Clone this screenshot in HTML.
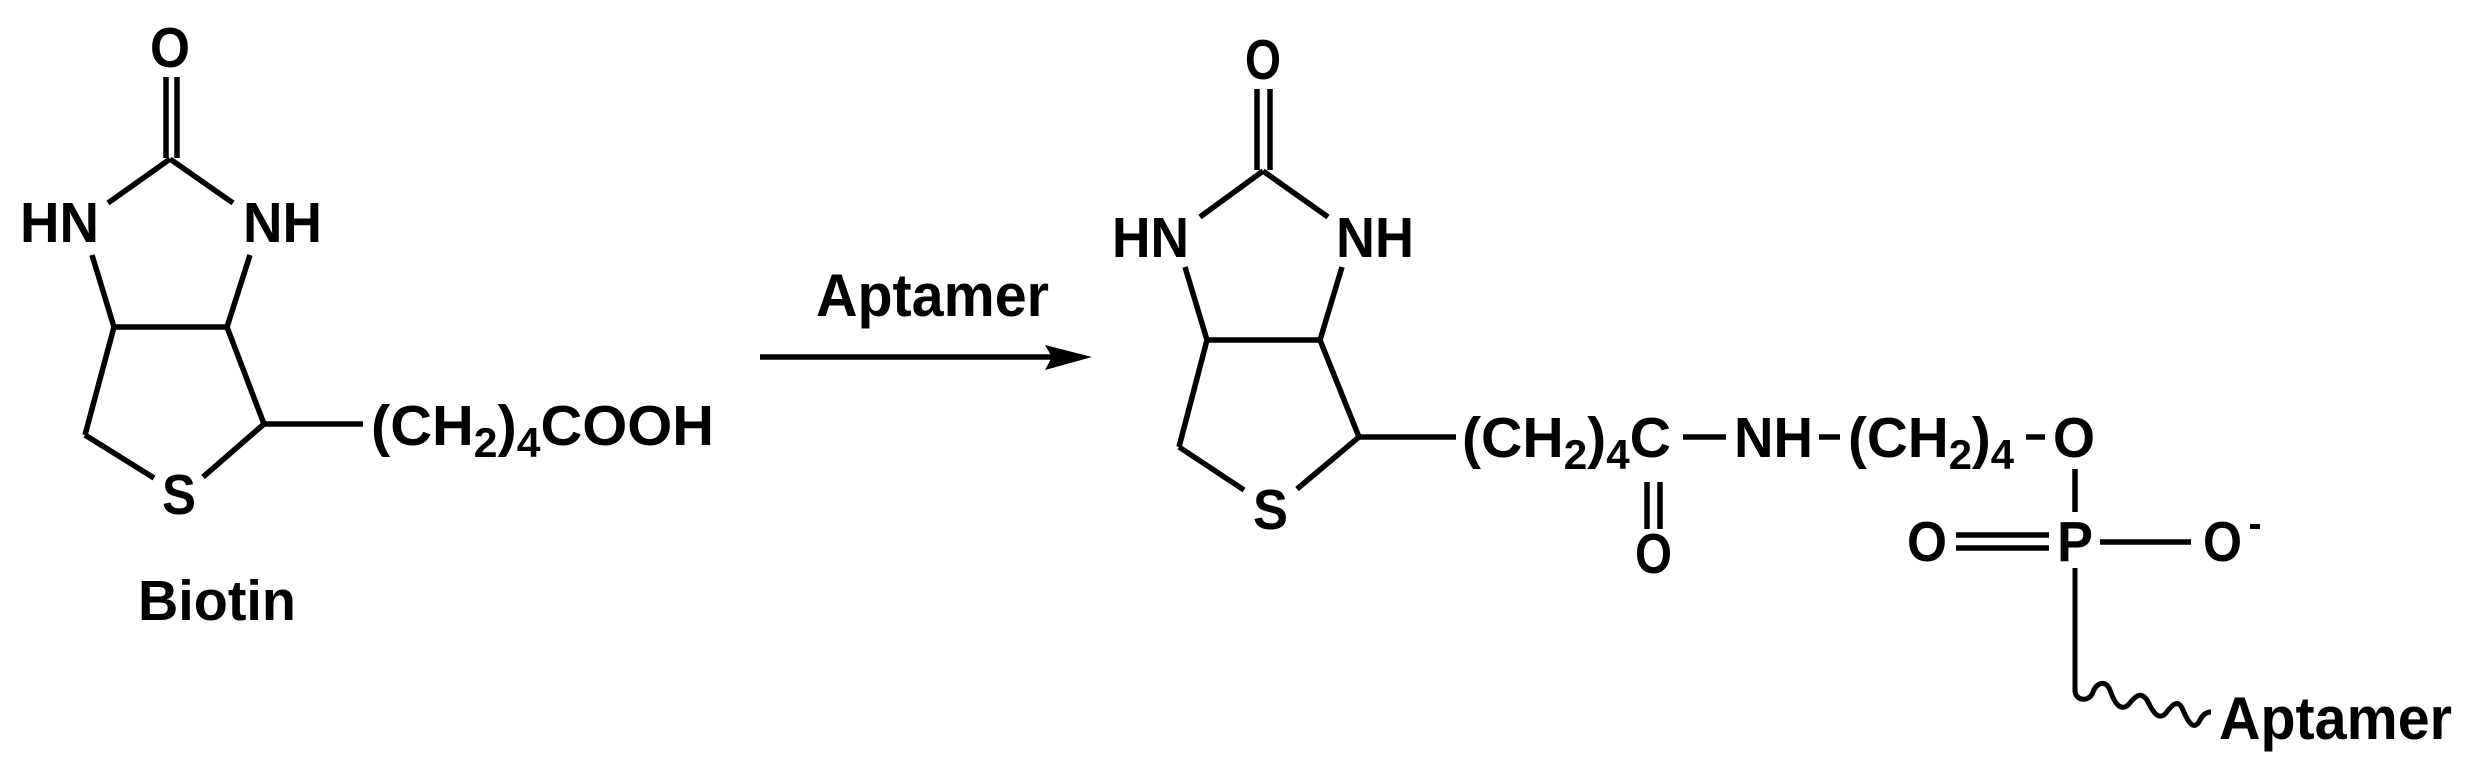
<!DOCTYPE html>
<html><head><meta charset="utf-8"><style>
html,body{margin:0;padding:0;background:#fff;}
svg{display:block}
text{font-family:"Liberation Sans",Arial,sans-serif;font-weight:bold;fill:#000;}
</style></head><body>
<svg width="2474" height="775" viewBox="0 0 2474 775" xmlns="http://www.w3.org/2000/svg">
<g stroke="#000" stroke-width="5.5" fill="none" stroke-linecap="butt">
<line x1="166" y1="77" x2="166" y2="158"/><line x1="177" y1="77" x2="177" y2="158"/>
<line x1="170" y1="159" x2="108" y2="203"/><line x1="170" y1="159" x2="233" y2="203"/>
<line x1="92" y1="255" x2="114" y2="327"/><line x1="250" y1="255" x2="227" y2="327"/>
<line x1="114" y1="327" x2="227" y2="327"/>
<line x1="114" y1="327" x2="85" y2="435"/><line x1="85" y1="435" x2="154" y2="478"/>
<line x1="227" y1="327" x2="264" y2="424"/><line x1="264" y1="424" x2="203" y2="477"/>
<line x1="264" y1="424" x2="363" y2="424"/>
<line x1="760" y1="357" x2="1060" y2="357"/>
<polygon points="1092,357 1045,345 1052,357 1045,370" fill="#000" stroke="none"/>
<line x1="1257" y1="89" x2="1257" y2="170"/><line x1="1270" y1="89" x2="1270" y2="170"/>
<line x1="1263" y1="171" x2="1200" y2="217"/><line x1="1263" y1="171" x2="1328" y2="217"/>
<line x1="1185" y1="267" x2="1207" y2="340"/><line x1="1342" y1="267" x2="1320" y2="340"/>
<line x1="1207" y1="340" x2="1320" y2="340"/>
<line x1="1207" y1="340" x2="1179" y2="447"/><line x1="1179" y1="447" x2="1244" y2="490"/>
<line x1="1320" y1="340" x2="1359" y2="437"/><line x1="1359" y1="437" x2="1297" y2="489"/>
<line x1="1359" y1="437" x2="1456" y2="437"/>
<line x1="1683" y1="437" x2="1726" y2="437"/>
<line x1="1819" y1="437" x2="1840" y2="437"/>
<line x1="2026" y1="437" x2="2045" y2="437"/>
<line x1="1647" y1="482" x2="1647" y2="529"/><line x1="1660" y1="482" x2="1660" y2="529"/>
<line x1="2075" y1="469" x2="2075" y2="512"/>
<line x1="1956" y1="535" x2="2049" y2="535"/><line x1="1956" y1="548" x2="2049" y2="548"/>
<line x1="2100" y1="542" x2="2191" y2="542"/>
<path d="M2075 568 L2075 690 C2075 702 2090 702 2093 692 C2097 682 2106 680 2110 690 C2114 702 2120 712 2128 705 C2134 698 2140 690 2147 700 C2152 710 2158 722 2166 713 C2172 705 2178 698 2183 710 C2188 722 2194 732 2200 720 C2203 714 2207 712 2211 712" stroke-width="5"/>
</g>
<g font-size="57">
<text x="150" y="67" textLength="40" lengthAdjust="spacingAndGlyphs">O</text>
<text x="20" y="242" textLength="79" lengthAdjust="spacingAndGlyphs">HN</text>
<text x="243" y="242" textLength="79" lengthAdjust="spacingAndGlyphs">NH</text>
<text x="162" y="514" textLength="34" lengthAdjust="spacingAndGlyphs">S</text>
<text x="371" y="445" textLength="343" lengthAdjust="spacingAndGlyphs">(CH<tspan font-size="42" dy="12">2</tspan><tspan dy="-12">)</tspan><tspan font-size="42" dy="12">4</tspan><tspan dy="-12">COOH</tspan></text>
<text x="138" y="620" textLength="158" lengthAdjust="spacingAndGlyphs">Biotin</text>
<text x="816" y="316" font-size="60" textLength="233" lengthAdjust="spacingAndGlyphs">Aptamer</text>

<text x="1245" y="79" textLength="36" lengthAdjust="spacingAndGlyphs">O</text>
<text x="1112" y="257" textLength="77" lengthAdjust="spacingAndGlyphs">HN</text>
<text x="1336" y="257" textLength="78" lengthAdjust="spacingAndGlyphs">NH</text>
<text x="1253" y="529" textLength="35" lengthAdjust="spacingAndGlyphs">S</text>
<text x="1462" y="457" textLength="209" lengthAdjust="spacingAndGlyphs">(CH<tspan font-size="42" dy="12">2</tspan><tspan dy="-12">)</tspan><tspan font-size="42" dy="12">4</tspan><tspan dy="-12">C</tspan></text>
<text x="1734" y="457" textLength="79" lengthAdjust="spacingAndGlyphs">NH</text>
<text x="1848" y="457" textLength="166" lengthAdjust="spacingAndGlyphs">(CH<tspan font-size="42" dy="12">2</tspan><tspan dy="-12">)</tspan><tspan font-size="42" dy="12">4</tspan></text>
<text x="2053" y="457" textLength="42" lengthAdjust="spacingAndGlyphs">O</text>
<text x="1635" y="573" textLength="37" lengthAdjust="spacingAndGlyphs">O</text>
<text x="1907" y="561" textLength="40" lengthAdjust="spacingAndGlyphs">O</text>
<text x="2057" y="561" textLength="36" lengthAdjust="spacingAndGlyphs">P</text>
<text x="2203" y="561" textLength="39" lengthAdjust="spacingAndGlyphs">O</text>
<rect x="2250" y="524" width="10" height="5" fill="#000"/>
<text x="2219" y="739" font-size="60" textLength="233" lengthAdjust="spacingAndGlyphs">Aptamer</text>
</g>
</svg>
</body></html>
